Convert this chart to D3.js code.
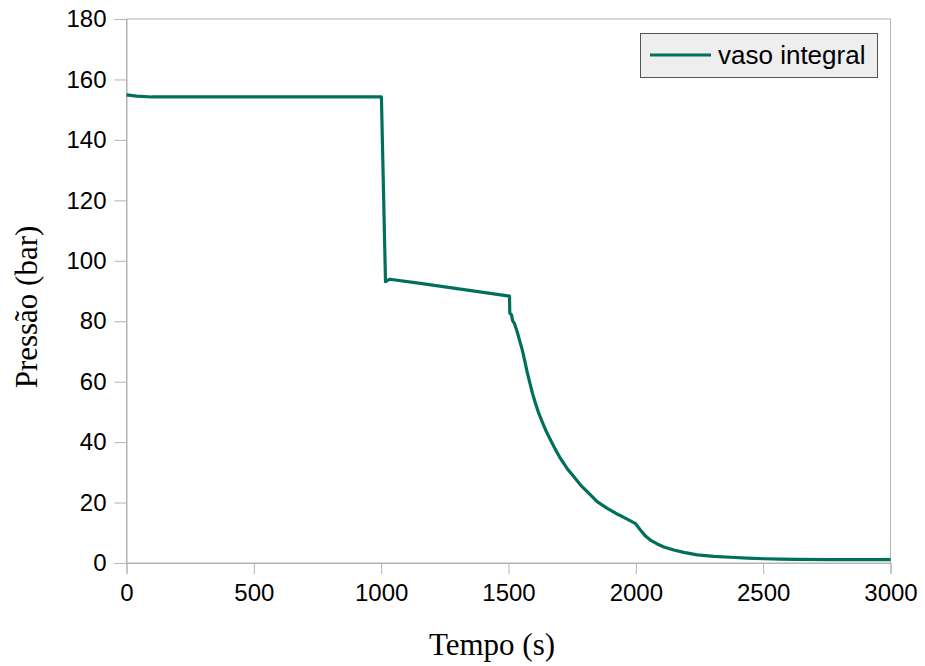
<!DOCTYPE html>
<html>
<head>
<meta charset="utf-8">
<script src="https://cdn.jsdelivr.net/npm/d3@7/dist/d3.min.js"></script>
<style>
  html, body { margin: 0; padding: 0; background: #ffffff; }
  svg { display: block; }
</style>
</head>
<body>
<svg id="chart" width="925" height="666"></svg>
<script>
// Pressure history of the vessel (time in s, pressure in bar)
const tempo = [0, 40, 100, 1001, 1017, 1034, 1154, 1504, 1505, 1512, 1516, 1523, 1534, 1543, 1554, 1563, 1573, 1584, 1594, 1606, 1619, 1632, 1649, 1665, 1684, 1704, 1730, 1756, 1783, 1815, 1848, 1888, 1927, 1966, 1999, 2018, 2038, 2057, 2084, 2110, 2149, 2188, 2241, 2306, 2372, 2437, 2503, 2568, 2634, 2765, 3000];
const pressao = [154.9, 154.5, 154.2, 154.2, 93.1, 93.9, 92.5, 88.3, 82.7, 82.1, 80.2, 79.3, 76.5, 73.8, 70.5, 67.2, 63.3, 59.5, 56.2, 52.8, 49.5, 46.8, 43.4, 40.7, 37.6, 34.6, 31.3, 28.6, 25.8, 23.1, 20.3, 18.1, 16.2, 14.5, 13.0, 10.9, 8.9, 7.6, 6.3, 5.3, 4.3, 3.5, 2.7, 2.2, 1.9, 1.6, 1.4, 1.3, 1.2, 1.1, 1.1];

const xTicks = [0, 500, 1000, 1500, 2000, 2500, 3000];
const yTicks = [0, 20, 40, 60, 80, 100, 120, 140, 160, 180];
const seriesName = "vaso integral";
const xTitle = "Tempo (s)";
const yTitle = "Pressão (bar)";

const lineColor = "#00705d";
const axisColor = "#b3b3b3";

const svg = d3.select("#chart");
const plot = { left: 126.5, right: 890.5, top: 19, bottom: 563 };

const x = d3.scaleLinear().domain([0, 3000]).range([plot.left, plot.right]);
const y = d3.scaleLinear().domain([0, 180]).range([plot.bottom, plot.top]);

// plot frame
svg.append("rect")
  .attr("x", plot.left).attr("y", plot.top)
  .attr("width", plot.right - plot.left).attr("height", plot.bottom - plot.top)
  .attr("fill", "none").attr("stroke", axisColor).attr("stroke-width", 1);

// axes
const xAxis = d3.axisBottom(x).tickValues(xTicks).tickSize(11).tickPadding(10).tickFormat(d3.format("d"));
const yAxis = d3.axisLeft(y).tickValues(yTicks).tickSize(12).tickPadding(8).tickFormat(d3.format("d"));

const gx = svg.append("g").attr("transform", `translate(0,${plot.bottom})`).call(xAxis);
const gy = svg.append("g").attr("transform", `translate(${plot.left},0)`).call(yAxis);

[gx, gy].forEach(g => {
  g.select(".domain").attr("stroke", axisColor).attr("stroke-width", 1);
  g.selectAll(".tick line").attr("stroke", axisColor).attr("stroke-width", 1);
  g.selectAll(".tick text")
    .attr("fill", "#000")
    .style("font-family", "'Liberation Sans', Arial, sans-serif")
    .style("font-size", "24px");
});

// series
const data = tempo.map((t, i) => ({ t, p: pressao[i] }));
const line = d3.line().x(d => x(d.t)).y(d => y(d.p));
svg.append("path")
  .datum(data)
  .attr("d", line)
  .attr("fill", "none")
  .attr("stroke", lineColor)
  .attr("stroke-width", 3.2)
  .attr("stroke-linejoin", "round");

// axis titles
svg.append("text")
  .attr("x", 492).attr("y", 655)
  .attr("text-anchor", "middle")
  .style("font-family", "'Liberation Serif', 'Times New Roman', serif")
  .style("font-size", "31px")
  .text(xTitle);

svg.append("text")
  .attr("transform", "translate(37,307) rotate(-90)")
  .attr("text-anchor", "middle")
  .style("font-family", "'Liberation Serif', 'Times New Roman', serif")
  .style("font-size", "31px")
  .text(yTitle);

// legend
const lg = svg.append("g");
lg.append("rect")
  .attr("x", 640.5).attr("y", 33.5).attr("width", 237).attr("height", 44)
  .attr("fill", "#eeeeee").attr("stroke", "#555555").attr("stroke-width", 1);
lg.append("line")
  .attr("x1", 650).attr("x2", 711).attr("y1", 55).attr("y2", 55)
  .attr("stroke", lineColor).attr("stroke-width", 3.2);
lg.append("text")
  .attr("x", 718).attr("y", 64)
  .style("font-family", "'Liberation Sans', Arial, sans-serif")
  .style("font-size", "26px")
  .text(seriesName);
</script>
</body>
</html>
